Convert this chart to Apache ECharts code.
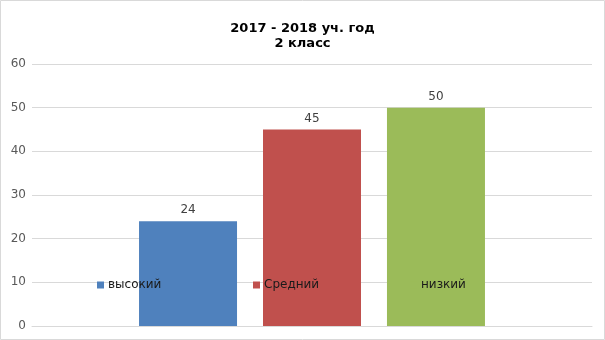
<!DOCTYPE html>
<html><head><meta charset="utf-8">
<script src="https://cdn.jsdelivr.net/npm/echarts@6/dist/echarts.min.js"></script>
<style>html,body{margin:0;padding:0;background:#fff}#c{width:605px;height:340px}</style>
</head><body><div id="c"></div>
<script>
const titleLines = ['2017 - 2018 уч. год', '2 класс'];
const categories = ['2 класс'];
const seriesNames = ['высокий', 'Средний', 'низкий'];
const seriesValues = [[24], [45], [50]];
const seriesColors = ['#4F81BD', '#C0504D', '#9BBB59'];
const yTicks = [0, 10, 20, 30, 40, 50, 60];

const chart = echarts.init(document.getElementById('c'), null, {renderer: 'canvas'});
const font = 'DejaVu Sans';
const legendLefts = [97, 253, 410];
chart.setOption({
  animation: false,
  textStyle: {fontFamily: font},
  title: {
    text: titleLines.join('\n'), left: 'center', top: 16,
    textStyle: {fontFamily: font, fontSize: 13, fontWeight: 'bold', color: '#000', lineHeight: 15}
  },
  graphic: [{type: 'rect', shape: {x: 0.5, y: 0.5, width: 604, height: 339}, style: {fill: 'none', stroke: '#d9d9d9', lineWidth: 1}, silent: true}],
  legend: seriesNames.map((n, i) => ({
    data: [n], left: legendLefts[i], top: 279, itemWidth: 7, itemHeight: 7, icon: 'rect',
    textStyle: {fontFamily: font, fontSize: 12, color: '#1a1a1a', padding: [0, 0, 0, -1]},
    padding: 0, z: 10
  })),
  grid: {left: 32, right: 13, top: 64, bottom: 14},
  xAxis: {type: 'category', data: categories, axisLine: {show: true, lineStyle: {color: '#d9d9d9'}}, axisTick: {show: false}, axisLabel: {show: false}},
  yAxis: {
    type: 'value', min: yTicks[0], max: yTicks[yTicks.length - 1], interval: 10,
    axisLine: {show: false}, axisTick: {show: false},
    axisLabel: {fontFamily: font, fontSize: 12, color: '#595959', margin: 6},
    splitLine: {lineStyle: {color: '#d9d9d9'}}
  },
  series: seriesNames.map((n, i) => ({
    name: n, type: 'bar', data: seriesValues[i], barWidth: 98, barGap: '26.5%',
    itemStyle: {color: seriesColors[i]},
    label: {show: true, position: 'top', distance: 5, fontFamily: font, fontSize: 12, color: '#404040'}
  }))
});
</script></body></html>
